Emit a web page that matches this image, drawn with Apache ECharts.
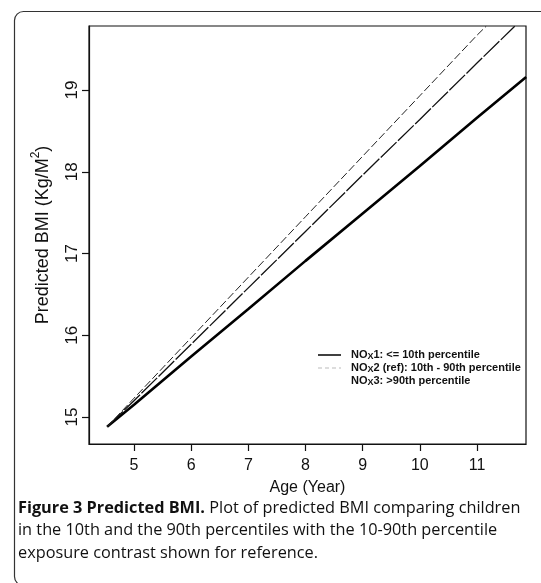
<!DOCTYPE html>
<html><head><meta charset="utf-8">
<script src="https://cdn.jsdelivr.net/npm/echarts@6/dist/echarts.min.js"></script>
<style>html,body{margin:0;padding:0;background:#fff}#c{width:541px;height:583px}</style>
</head><body><div id="c"></div>
<script>
// Data
const ages1 = [4.53, 5, 6, 7, 8, 9, 10, 11, 11.86];
const bmiNOx1 = [14.88, 15.15, 15.74, 16.32, 16.91, 17.49, 18.07, 18.66, 19.16];
const ages2 = [4.53, 5, 6, 7, 8, 9, 10, 11, 11.66];
const bmiNOx2 = [14.88, 15.20, 15.89, 16.58, 17.27, 17.96, 18.64, 19.33, 19.78];
const ages3 = [4.53, 5, 6, 7, 8, 9, 10, 11, 11.16];
const bmiNOx3 = [14.88, 15.23, 15.97, 16.71, 17.45, 18.19, 18.93, 19.67, 19.78];
const xTicks = [5, 6, 7, 8, 9, 10, 11];
const yTicks = [15, 16, 17, 18, 19];
const seriesNames = ['NOx1', 'NOx2', 'NOx3'];
const legendTexts = ['1: <= 10th percentile', '2 (ref): 10th - 90th percentile', '3: >90th percentile'];

const pair = (xs, ys) => xs.map((x, i) => [x, ys[i]]);
const chart = echarts.init(document.getElementById('c'), null, {renderer: 'canvas'});
const axisFont = 'Liberation Sans, Arial, sans-serif';
const narrow = 'Liberation Sans Narrow, Arial Narrow, sans-serif';
chart.setOption({
  animation: false,
  backgroundColor: '#fff',
  grid: {left: 89, top: 26, right: 15, bottom: 139, show: true, borderColor: '#111', borderWidth: 1.2, backgroundColor: 'transparent'},
  xAxis: {
    type: 'value', min: 4.213, max: 11.857,
    name: 'Age (Year)', nameLocation: 'middle', nameGap: 36,
    nameTextStyle: {fontFamily: axisFont, fontSize: 16, color: '#111'},
    axisLine: {show: true, lineStyle: {color: '#111', width: 1.2}},
    axisTick: {show: true, length: 7, customValues: xTicks, lineStyle: {color: '#111', width: 1.2}},
    axisLabel: {customValues: xTicks, margin: 14, fontFamily: axisFont, fontSize: 16, color: '#111'},
    splitLine: {show: false}
  },
  yAxis: {
    type: 'value', min: 14.67, max: 19.783,
    name: '{a|Predicted BMI (Kg/M}{s|2}{a|)}', nameLocation: 'middle', nameRotate: 90, nameGap: 37,
    nameTextStyle: {rich: {
      a: {fontFamily: axisFont, fontSize: 18, color: '#111', lineHeight: 22, verticalAlign: 'bottom'},
      s: {fontFamily: axisFont, fontSize: 12, color: '#111', lineHeight: 22, verticalAlign: 'top'}
    }},
    axisLine: {show: true, lineStyle: {color: '#111', width: 1.2}},
    axisTick: {show: true, length: 7, customValues: yTicks, lineStyle: {color: '#111', width: 1.2}},
    axisLabel: {customValues: yTicks, rotate: 90, margin: 8, fontFamily: axisFont, fontSize: 17, color: '#111'},
    splitLine: {show: false}
  },
  legend: {
    orient: 'vertical', left: 317, top: 348, itemWidth: 23, itemHeight: 12, itemGap: 0,
    padding: 0,
    itemStyle: {opacity: 0, borderWidth: 0},
    data: [
      {name: 'NOx1', lineStyle: {color: '#000', width: 1.5, type: 'solid'}, itemStyle: {opacity: 0}},
      {name: 'NOx2', lineStyle: {color: '#bbb', width: 1, type: [4, 3]}, itemStyle: {opacity: 0}},
      {name: 'NOx3', lineStyle: {opacity: 0}, itemStyle: {opacity: 0}}
    ],
    formatter: function (name) {
      const i = seriesNames.indexOf(name);
      return '{f|NO}{s|X}{n|' + legendTexts[i] + '}';
    },
    textStyle: {rich: {
      f: {fontFamily: narrow, fontWeight: 'bold', fontSize: 11, color: '#111', lineHeight: 12, verticalAlign: 'top', padding: [0, 0, 0, 5]},
      n: {fontFamily: narrow, fontWeight: 'bold', fontSize: 11, color: '#111', lineHeight: 12, verticalAlign: 'top'},
      s: {fontFamily: narrow, fontWeight: 'bold', fontSize: 9, color: '#111', lineHeight: 12, verticalAlign: 'bottom', padding: [4, 0, 0, 0]}
    }}
  },
  series: [
    {name: 'NOx1', type: 'line', data: pair(ages1, bmiNOx1), symbol: 'none', clip: true,
     lineStyle: {color: '#000', width: 2.6}, itemStyle: {color: '#000'}},
    {name: 'NOx2', type: 'line', data: pair(ages2, bmiNOx2), symbol: 'none', clip: true,
     lineStyle: {color: '#111', width: 1.3, type: [22, 2]}, itemStyle: {color: '#111'}},
    {name: 'NOx3', type: 'line', data: pair(ages3, bmiNOx3), symbol: 'none', clip: true,
     lineStyle: {color: '#222', width: 1, type: [8, 3]}, itemStyle: {color: '#222'}}
  ],
  graphic: [
    {type: 'rect', left: 12, top: 9, silent: true, z: -1,
     shape: {width: 560, height: 574, r: 9},
     style: {fill: 'none', stroke: '#333', lineWidth: 1.2}},
    {type: 'text', left: 18, top: 500, silent: true,
     style: {text: '{b|Figure 3 Predicted BMI.}{r| Plot of predicted BMI comparing children}\n{r|in the 10th and the 90th percentiles with the 10-90th percentile}\n{r|exposure contrast shown for reference.}',
       rich: {
         b: {fontFamily: 'Open Sans, Noto Sans, sans-serif', fontWeight: 'bold', fontSize: 16.3, lineHeight: 22.5, fill: '#111'},
         r: {fontFamily: 'Open Sans, Noto Sans, sans-serif', fontSize: 16.3, lineHeight: 22.5, fill: '#111'}
       }}}
  ]
});
</script></body></html>
